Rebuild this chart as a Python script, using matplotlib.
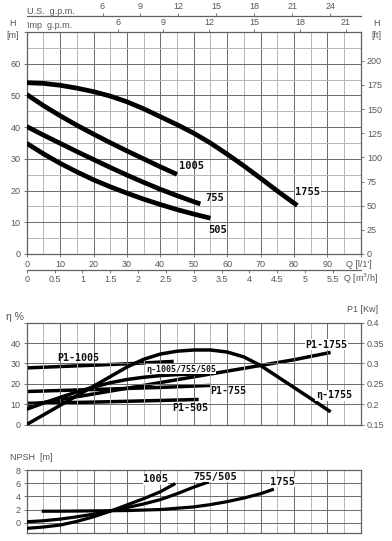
import numpy as np
import matplotlib
matplotlib.use('Agg')
import matplotlib.pyplot as plt

# ---------------- data ----------------
# H-Q curves  (Q in l/min, H in m)
q_1755 = [0, 5, 10, 15, 20, 25, 30, 35, 40, 45, 50, 55, 60, 65, 70, 75, 81]
h_1755 = [54.0, 53.8, 53.2, 52.3, 51.2, 49.8, 48.0, 45.8, 43.3, 40.8, 38.1, 35.0, 31.5, 27.8, 23.9, 19.9, 15.3]
q_1005 = [0, 5, 10, 15, 20, 25, 30, 35, 40, 45]
h_1005 = [50.3, 46.8, 43.6, 40.6, 37.8, 35.1, 32.5, 30.0, 27.5, 25.1]
q_755 = [0, 5, 10, 15, 20, 25, 30, 35, 40, 45, 50, 52]
h_755 = [40.2, 37.5, 34.9, 32.3, 29.8, 27.3, 24.9, 22.6, 20.4, 18.4, 16.5, 15.8]
q_505 = [0, 5, 10, 15, 20, 25, 30, 35, 40, 45, 50, 55]
h_505 = [34.9, 31.6, 28.6, 25.9, 23.4, 21.2, 19.2, 17.3, 15.6, 14.0, 12.6, 11.3]

# efficiency curves (%)
q_eta1755 = [0, 5, 10, 15, 20, 25, 30, 35, 40, 45, 50, 55, 60, 65, 70, 75, 80, 85, 91]
eta_1755 = [0, 4.7, 9.4, 14.1, 18.8, 23.5, 28.2, 32.0, 34.6, 36.0, 36.6, 36.6, 35.6, 33.2, 29.0, 23.6, 18.2, 12.8, 6.2]
q_eta_small = [0, 5, 10, 15, 20, 25, 30, 35, 40, 45, 50, 55]
eta_small = [7.5, 10.5, 13.3, 16.0, 18.4, 20.5, 22.1, 23.2, 24.0, 24.5, 24.8, 25.0]

# absorbed power P1 (kW)
q_p1_1005 = [0, 15, 30, 44]
p1_1005 = [0.289, 0.294, 0.299, 0.305]
q_p1_755 = [0, 20, 40, 55]
p1_755 = [0.231, 0.236, 0.241, 0.246]
q_p1_505 = [0, 20, 40, 51.5]
p1_505 = [0.202, 0.205, 0.209, 0.2115]
q_p1_1755 = [0, 20, 40, 60, 80, 91]
p1_1755 = [0.197, 0.225, 0.253, 0.281, 0.309, 0.327]

# NPSH curves (m)
q_npsh_1005 = [0, 5, 10, 15, 20, 25, 30, 35, 40, 44.5]
npsh_1005 = [-0.85, -0.65, -0.35, 0.2, 0.9, 1.75, 2.7, 3.65, 4.7, 5.95]
q_npsh_755 = [0, 5, 10, 15, 20, 25, 30, 35, 40, 45, 50, 54.5]
npsh_755 = [0.15, 0.3, 0.55, 0.9, 1.3, 1.8, 2.3, 2.85, 3.5, 4.4, 5.4, 6.2]
q_npsh_1755 = [4.5, 10, 20, 30, 40, 50, 55, 60, 65, 70, 74]
npsh_1755 = [1.75, 1.75, 1.8, 1.85, 2.0, 2.4, 2.75, 3.2, 3.75, 4.4, 5.1]

# tick values
q_ticks = [0, 10, 20, 30, 40, 50, 60, 70, 80, 90]
h_ticks = [0, 10, 20, 30, 40, 50, 60]
ft_ticks = [0, 25, 50, 75, 100, 125, 150, 175, 200]
us_gpm_ticks = [6, 9, 12, 15, 18, 21, 24]
imp_gpm_ticks = [6, 9, 12, 15, 18, 21]
m3h_ticks = [0, 0.5, 1, 1.5, 2, 2.5, 3, 3.5, 4, 4.5, 5, 5.5]
m3h_labels = ['0', '0.5', '1', '1.5', '2', '2.5', '3', '3.5', '4', '4.5', '5', '5.5']
eta_ticks = [0, 10, 20, 30, 40]
p1_ticks = [0.15, 0.2, 0.25, 0.3, 0.35, 0.4]
p1_labels = ['0.15', '0.2', '0.25', '0.3', '0.35', '0.4']
npsh_ticks = [0, 2, 4, 6, 8]

# ---------------- style ----------------
W, H = 392, 541
TICK_C = '#555555'
SPINE_C = '#606060'
MAJ_C = '#6a6a6a'
MIN_C = '#b5b5b5'
TFS = 6.5
LAB_FONT = dict(family='DejaVu Sans Mono', weight='bold', color='#111111')
plt.rcParams['font.family'] = ['Liberation Sans', 'DejaVu Sans']

fig = plt.figure(figsize=(W / 100, H / 100), dpi=100)


def box(x0, y0, x1, y1):
    return [x0 / W, 1 - y1 / H, (x1 - x0) / W, (y1 - y0) / H]


def ftext(x, y, s, **kw):
    fig.text(x / W, 1 - y / H, s, **kw)


def style_grid(ax, xmaj, xmin, ymaj, ymin):
    ax.set_xticks(xmaj)
    ax.set_xticks(xmin, minor=True)
    ax.set_yticks(ymaj)
    ax.set_yticks(ymin, minor=True)
    ax.grid(which='major', color=MAJ_C, lw=0.7)
    ax.grid(which='minor', color=MIN_C, lw=0.7)
    ax.set_axisbelow(True)
    for s in ax.spines.values():
        s.set_color(SPINE_C)
        s.set_linewidth(0.9)
    ax.tick_params(which='minor', length=0)
    ax.tick_params(which='major', length=2.5, width=0.6, color=SPINE_C,
                   labelsize=TFS, labelcolor=TICK_C, pad=2)


lw_top = 3.4
x_maj = list(range(0, 101, 10))
x_min = list(range(5, 100, 10))

# ================= top chart: H-Q =================
ax1 = fig.add_axes(box(26.7, 32, 360.7, 254))
ax1.set_xlim(0, 100)
ax1.set_ylim(0, 70)
style_grid(ax1, x_maj, x_min, list(range(0, 71, 10)), list(range(5, 70, 10)))
ax1.set_xticks(q_ticks + [100])
ax1.set_xticklabels([str(v) for v in q_ticks] + [''])
ax1.set_yticklabels([str(v) for v in h_ticks] + [''])
ax1.tick_params(axis='y', which='major', length=2.5)

for q, h in [(q_1755, h_1755), (q_1005, h_1005), (q_755, h_755), (q_505, h_505)]:
    ax1.plot(q, h, color='black', lw=lw_top, solid_capstyle='butt', solid_joinstyle='round', zorder=3)

ax1.text(49.2, 27.9, '1005', fontsize=7.5, ha='center', va='center', **LAB_FONT, zorder=5)
ax1.text(56.4, 17.8, '755', fontsize=7.5, ha='center', va='center', **LAB_FONT, zorder=5)
ax1.text(57.2, 7.6, '505', fontsize=7.5, ha='center', va='center', **LAB_FONT, zorder=5)
ax1.text(84.2, 19.6, '1755', fontsize=7.5, ha='center', va='center', zorder=5,
         bbox=dict(facecolor='white', edgecolor='none', pad=0.3), **LAB_FONT)

# right axis in ft
ax1r = ax1.twinx()
ax1r.set_ylim(0, 70 / 0.3048)
ax1r.set_yticks(ft_ticks)
ax1r.set_yticklabels([str(v) for v in ft_ticks])
ax1r.tick_params(length=2.5, width=0.6, color=SPINE_C, labelsize=TFS, labelcolor=TICK_C, pad=2)
for s in ax1r.spines.values():
    s.set_visible(False)

# top: Imp g.p.m.
lpm_imp = 4.54609
lpm_us = 3.78541
sec_imp = ax1.secondary_xaxis(1.0, functions=(lambda q: q / lpm_imp, lambda g: g * lpm_imp))
sec_imp.set_xticks(imp_gpm_ticks)
sec_imp.set_xticklabels([str(v) for v in imp_gpm_ticks])
sec_imp.tick_params(length=2.5, width=0.6, color=SPINE_C, labelsize=TFS, labelcolor=TICK_C, pad=1)
sec_imp.spines['top'].set_visible(False)

sec_us = ax1.secondary_xaxis(238 / 222, functions=(lambda q: q / lpm_us, lambda g: g * lpm_us))
sec_us.set_xticks(us_gpm_ticks)
sec_us.set_xticklabels([str(v) for v in us_gpm_ticks])
sec_us.tick_params(length=2.5, width=0.6, color=SPINE_C, labelsize=TFS, labelcolor=TICK_C, pad=1)
sec_us.spines['top'].set_color(SPINE_C)
sec_us.spines['top'].set_linewidth(0.9)

# bottom: m3/h
sec_m3 = ax1.secondary_xaxis(-16 / 222, functions=(lambda q: q * 0.06, lambda m: m / 0.06))
sec_m3.set_xticks(m3h_ticks)
sec_m3.set_xticklabels(m3h_labels)
sec_m3.tick_params(length=2.5, width=0.6, color=SPINE_C, labelsize=TFS, labelcolor=TICK_C, pad=1)
sec_m3.spines['bottom'].set_color(SPINE_C)
sec_m3.spines['bottom'].set_linewidth(0.9)

ftext(27, 11, 'U.S.  g.p.m.', fontsize=TFS, color=TICK_C, va='center', ha='left')
ftext(27, 25, 'Imp  g.p.m.', fontsize=TFS, color=TICK_C, va='center', ha='left')
ftext(13, 24, 'H', fontsize=TFS, color=TICK_C, va='center', ha='center')
ftext(13, 36, '[m]', fontsize=TFS, color=TICK_C, va='center', ha='center')
ftext(376, 24, 'H', fontsize=TFS, color=TICK_C, va='center', ha='center')
ftext(376, 36, '[ft]', fontsize=TFS, color=TICK_C, va='center', ha='center')
ftext(346, 264.5, "Q [l/1']", fontsize=TFS, color=TICK_C, va='center', ha='left')
ftext(343, 279, 'Q [m$^3$/h]', fontsize=TFS, color=TICK_C, va='center', ha='left')

# ================= middle chart: efficiency / P1 =================
ax2 = fig.add_axes(box(26.7, 322.7, 360.7, 424.5))
ax2.set_xlim(0, 100)
ax2.set_ylim(0, 50)
style_grid(ax2, x_maj, x_min, list(range(0, 51, 10)), [])
ax2.set_yticklabels([str(v) for v in eta_ticks] + [''])
ax2.tick_params(axis='x', which='major', length=0, labelbottom=False)

lw_mid = 2.5
ax2.plot(q_eta1755, eta_1755, color='black', lw=lw_mid, solid_capstyle='butt', solid_joinstyle='round', zorder=3)
ax2.plot(q_eta_small, eta_small, color='black', lw=lw_mid, solid_capstyle='butt', solid_joinstyle='round', zorder=3)

ax2r = ax2.twinx()
ax2r.set_ylim(0.15, 0.40)
ax2r.set_yticks(p1_ticks)
ax2r.set_yticklabels(p1_labels)
ax2r.tick_params(length=2.5, width=0.6, color=SPINE_C, labelsize=TFS, labelcolor=TICK_C, pad=2)
for s in ax2r.spines.values():
    s.set_visible(False)
for q, p in [(q_p1_1005, p1_1005), (q_p1_755, p1_755), (q_p1_505, p1_505), (q_p1_1755, p1_1755)]:
    ax2r.plot(q, p, color='black', lw=lw_mid, solid_capstyle='butt', zorder=3)

ax2.text(15.5, 32.6, 'P1-1005', fontsize=7.2, ha='center', va='center', **LAB_FONT, zorder=6)
ax2.text(46.2, 27.2, 'η-1005/755/505', fontsize=6.0, ha='center', va='center', zorder=6,
         bbox=dict(facecolor='white', edgecolor='none', pad=0.2), **LAB_FONT)
ax2.text(60.4, 16.5, 'P1-755', fontsize=7.2, ha='center', va='center', **LAB_FONT, zorder=6)
ax2.text(48.9, 8.0, 'P1-505', fontsize=7.2, ha='center', va='center', **LAB_FONT, zorder=6)
ax2.text(89.8, 39.2, 'P1-1755', fontsize=7.2, ha='center', va='center', zorder=6,
         bbox=dict(facecolor='white', edgecolor='none', pad=0.2), **LAB_FONT)
ax2.text(91.9, 14.3, 'η-1755', fontsize=7.2, ha='center', va='center', zorder=6,
         bbox=dict(facecolor='white', edgecolor='none', pad=0.2), **LAB_FONT)
ax2.set_zorder(ax2r.get_zorder() + 1)
ax2.patch.set_visible(False)

ftext(6, 317, 'η %', fontsize=7.5, color=TICK_C, va='center', ha='left')
ftext(347, 310, 'P1 [Kw]', fontsize=TFS, color=TICK_C, va='center', ha='left')

# ================= bottom chart: NPSH =================
ax3 = fig.add_axes(box(26.7, 470, 360.7, 533.3))
ax3.set_xlim(0, 100)
ax3.set_ylim(-1.6, 8)
style_grid(ax3, x_maj, x_min, npsh_ticks, [])
ax3.set_yticklabels([str(v) for v in npsh_ticks])
ax3.tick_params(axis='x', which='major', length=0, labelbottom=False)

lw_bot = 2.3
for q, n in [(q_npsh_1005, npsh_1005), (q_npsh_755, npsh_755), (q_npsh_1755, npsh_1755)]:
    ax3.plot(q, n, color='black', lw=lw_bot, solid_capstyle='butt', solid_joinstyle='round', zorder=3)

ax3.text(38.6, 6.6, '1005', fontsize=7.5, ha='center', va='center', zorder=6,
         bbox=dict(facecolor='white', edgecolor='none', pad=0.2), **LAB_FONT)
ax3.text(56.5, 7.0, '755/505', fontsize=7.5, ha='center', va='center', zorder=6,
         bbox=dict(facecolor='white', edgecolor='none', pad=0.2), **LAB_FONT)
ax3.text(76.6, 6.2, '1755', fontsize=7.5, ha='center', va='center', zorder=6,
         bbox=dict(facecolor='white', edgecolor='none', pad=0.2), **LAB_FONT)

ftext(10, 457, 'NPSH  [m]', fontsize=TFS, color=TICK_C, va='center', ha='left')

fig.savefig('out.png', dpi=100)
